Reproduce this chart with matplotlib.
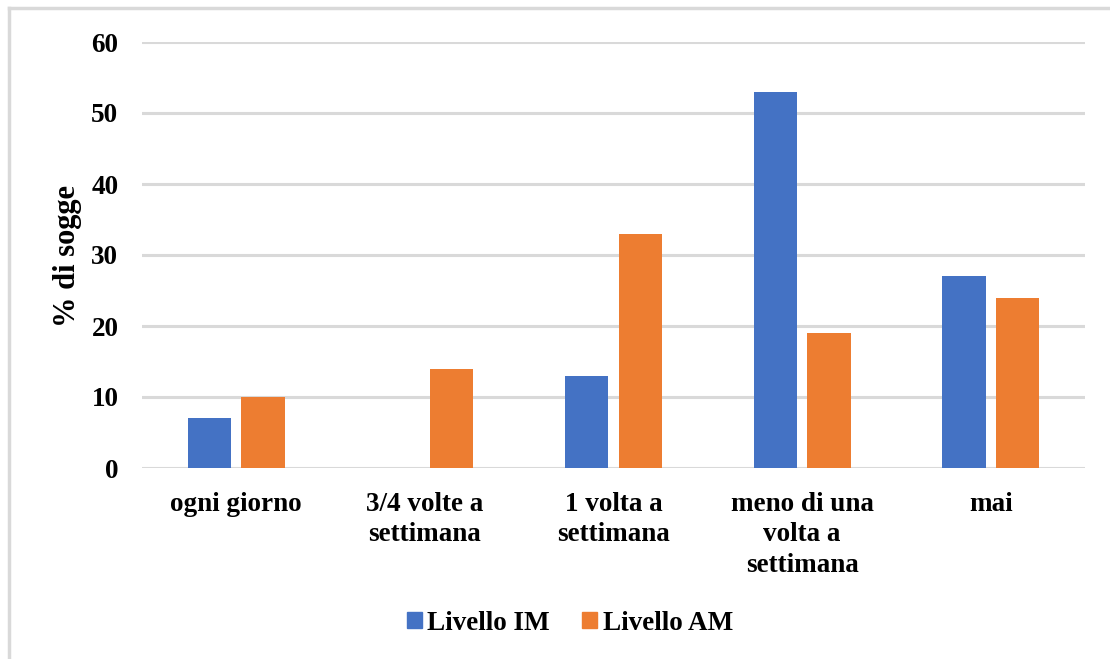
import numpy as np
import matplotlib.pyplot as plt
from matplotlib.lines import Line2D
from matplotlib.patches import Patch

categories = ["ogni giorno", "3/4 volte a\nsettimana", "1 volta a\nsettimana",
              "meno di una\nvolta a\nsettimana", "mai"]
livello_im = [7, 0, 13, 53, 27]
livello_am = [10, 14, 33, 19, 24]

BLUE = "#4472C4"
ORANGE = "#ED7D31"
GRID = "#d9d9d9"
FS = 19.5

plt.rcParams['font.family'] = ['Liberation Serif', 'DejaVu Serif']
plt.rcParams['font.weight'] = 'bold'

fig = plt.figure(figsize=(11.1, 6.59), dpi=100)
ax = fig.add_axes([142 / 1110, 1 - 468 / 659, (1085 - 142) / 1110, (468 - 42) / 659])

x = np.arange(len(categories))
w = 0.23
off = 0.142
ax.bar(x - off, livello_im, width=w, color=BLUE, label="Livello IM", zorder=3)
ax.bar(x + off, livello_am, width=w, color=ORANGE, label="Livello AM", zorder=3)

ax.set_xlim(-0.5, len(categories) - 0.5)
ax.set_ylim(0, 60)
ax.set_yticks(range(0, 61, 10))
ax.yaxis.grid(True, color=GRID, linewidth=2.2, zorder=0)
ax.set_axisbelow(True)
for s in ax.spines.values():
    s.set_visible(False)
ax.tick_params(axis='both', length=0, labelsize=FS)
ax.tick_params(axis='y', pad=17)
ax.tick_params(axis='x', pad=17)
ax.set_xticks(x)
ax.set_xticklabels(categories, fontweight='bold', linespacing=1.3, va='top')
for lab in ax.get_yticklabels():
    lab.set_fontweight('bold')

fig.text(68 / 1110, 1 - 256 / 659, "% di sogge", rotation=90, ha='center', va='center',
         fontsize=22, fontweight='bold')

handles = [Patch(color=BLUE, label="Livello IM"), Patch(color=ORANGE, label="Livello AM")]
fig.legend(handles=handles, loc='center', bbox_to_anchor=(570 / 1110, 1 - 623 / 659),
           ncol=2, frameon=False, handlelength=0.55, handleheight=0.55,
           handletextpad=0.2, columnspacing=1.2, prop={'weight': 'bold', 'size': FS})

# outer frame, top and left edges only
fig.add_artist(Line2D([9 / 1110, 1], [1 - 8 / 659, 1 - 8 / 659], color=GRID, linewidth=2.5,
                      transform=fig.transFigure))
fig.add_artist(Line2D([9 / 1110, 9 / 1110], [0, 1 - 8 / 659], color=GRID, linewidth=2.5,
                      transform=fig.transFigure))

fig.savefig("out.png", dpi=100)
